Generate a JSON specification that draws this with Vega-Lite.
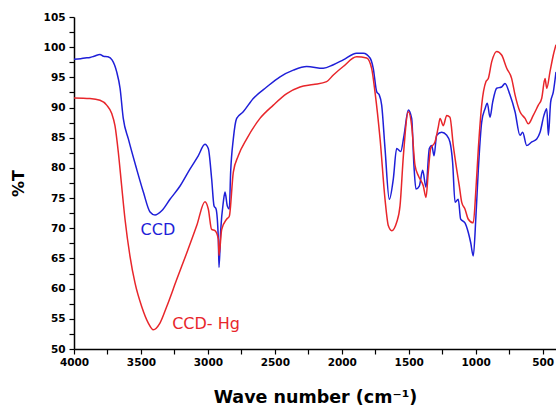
{
  "$schema": "https://vega.github.io/schema/vega-lite/v6.json",
  "width": 482,
  "height": 332,
  "autosize": {"type": "none"},
  "padding": {"left": 74, "top": 17, "right": 0, "bottom": 59},
  "background": "white",
  "config": {
    "view": {"stroke": null},
    "axis": {
      "domainColor": "black",
      "domainWidth": 1.5,
      "tickColor": "black",
      "tickWidth": 1.2,
      "grid": false,
      "labelFont": "DejaVu Sans",
      "labelFontWeight": "bold",
      "labelFontSize": 10.5,
      "labelColor": "black",
      "labelFlush": false,
      "titleFont": "DejaVu Sans",
      "titleFontWeight": "bold",
      "titleFontSize": 16,
      "titleColor": "black"
    }
  },
  "datasets": {
    "spectra": [
      {"series": "CCD", "wavenumber": 4000, "T": 98.0},
      {"series": "CCD", "wavenumber": 3950, "T": 98.1},
      {"series": "CCD", "wavenumber": 3918, "T": 98.2},
      {"series": "CCD", "wavenumber": 3880, "T": 98.3},
      {"series": "CCD", "wavenumber": 3850, "T": 98.5},
      {"series": "CCD", "wavenumber": 3806, "T": 98.8},
      {"series": "CCD", "wavenumber": 3780, "T": 98.5},
      {"series": "CCD", "wavenumber": 3746, "T": 98.4},
      {"series": "CCD", "wavenumber": 3716, "T": 97.9},
      {"series": "CCD", "wavenumber": 3681, "T": 95.9},
      {"series": "CCD", "wavenumber": 3656, "T": 93.2},
      {"series": "CCD", "wavenumber": 3632, "T": 88.2},
      {"series": "CCD", "wavenumber": 3594, "T": 84.8},
      {"series": "CCD", "wavenumber": 3532, "T": 79.8},
      {"series": "CCD", "wavenumber": 3482, "T": 76.0},
      {"series": "CCD", "wavenumber": 3432, "T": 72.7},
      {"series": "CCD", "wavenumber": 3395, "T": 72.2},
      {"series": "CCD", "wavenumber": 3345, "T": 72.9},
      {"series": "CCD", "wavenumber": 3283, "T": 74.8},
      {"series": "CCD", "wavenumber": 3208, "T": 77.0},
      {"series": "CCD", "wavenumber": 3134, "T": 79.8},
      {"series": "CCD", "wavenumber": 3072, "T": 82.0},
      {"series": "CCD", "wavenumber": 3022, "T": 83.9},
      {"series": "CCD", "wavenumber": 2997, "T": 83.2},
      {"series": "CCD", "wavenumber": 2972, "T": 78.2},
      {"series": "CCD", "wavenumber": 2954, "T": 73.7},
      {"series": "CCD", "wavenumber": 2939, "T": 73.2},
      {"series": "CCD", "wavenumber": 2922, "T": 68.2},
      {"series": "CCD", "wavenumber": 2917, "T": 63.5},
      {"series": "CCD", "wavenumber": 2904, "T": 69.8},
      {"series": "CCD", "wavenumber": 2885, "T": 74.3},
      {"series": "CCD", "wavenumber": 2872, "T": 76.0},
      {"series": "CCD", "wavenumber": 2855, "T": 73.7},
      {"series": "CCD", "wavenumber": 2840, "T": 73.2},
      {"series": "CCD", "wavenumber": 2830, "T": 79.3},
      {"series": "CCD", "wavenumber": 2810, "T": 84.8},
      {"series": "CCD", "wavenumber": 2785, "T": 88.2},
      {"series": "CCD", "wavenumber": 2736, "T": 89.3},
      {"series": "CCD", "wavenumber": 2661, "T": 91.5},
      {"series": "CCD", "wavenumber": 2561, "T": 93.4},
      {"series": "CCD", "wavenumber": 2461, "T": 95.1},
      {"series": "CCD", "wavenumber": 2362, "T": 96.2},
      {"series": "CCD", "wavenumber": 2262, "T": 96.8},
      {"series": "CCD", "wavenumber": 2138, "T": 96.5},
      {"series": "CCD", "wavenumber": 2063, "T": 97.1},
      {"series": "CCD", "wavenumber": 1989, "T": 97.9},
      {"series": "CCD", "wavenumber": 1889, "T": 99.0},
      {"series": "CCD", "wavenumber": 1839, "T": 99.0},
      {"series": "CCD", "wavenumber": 1789, "T": 98.2},
      {"series": "CCD", "wavenumber": 1765, "T": 96.5},
      {"series": "CCD", "wavenumber": 1739, "T": 92.6},
      {"series": "CCD", "wavenumber": 1720, "T": 92.1},
      {"series": "CCD", "wavenumber": 1702, "T": 90.4},
      {"series": "CCD", "wavenumber": 1677, "T": 83.2},
      {"series": "CCD", "wavenumber": 1645, "T": 74.8},
      {"series": "CCD", "wavenumber": 1615, "T": 78.2},
      {"series": "CCD", "wavenumber": 1590, "T": 83.2},
      {"series": "CCD", "wavenumber": 1560, "T": 82.7},
      {"series": "CCD", "wavenumber": 1535, "T": 85.4},
      {"series": "CCD", "wavenumber": 1503, "T": 89.6},
      {"series": "CCD", "wavenumber": 1478, "T": 88.2},
      {"series": "CCD", "wavenumber": 1461, "T": 80.4},
      {"series": "CCD", "wavenumber": 1446, "T": 76.5},
      {"series": "CCD", "wavenumber": 1421, "T": 77.0},
      {"series": "CCD", "wavenumber": 1396, "T": 79.6},
      {"series": "CCD", "wavenumber": 1371, "T": 76.8},
      {"series": "CCD", "wavenumber": 1346, "T": 83.2},
      {"series": "CCD", "wavenumber": 1328, "T": 83.7},
      {"series": "CCD", "wavenumber": 1311, "T": 82.0},
      {"series": "CCD", "wavenumber": 1291, "T": 85.4},
      {"series": "CCD", "wavenumber": 1254, "T": 85.9},
      {"series": "CCD", "wavenumber": 1216, "T": 85.4},
      {"series": "CCD", "wavenumber": 1192, "T": 84.3},
      {"series": "CCD", "wavenumber": 1172, "T": 80.9},
      {"series": "CCD", "wavenumber": 1154, "T": 74.3},
      {"series": "CCD", "wavenumber": 1130, "T": 74.8},
      {"series": "CCD", "wavenumber": 1112, "T": 71.5},
      {"series": "CCD", "wavenumber": 1080, "T": 70.9},
      {"series": "CCD", "wavenumber": 1055, "T": 69.3},
      {"series": "CCD", "wavenumber": 1037, "T": 67.6},
      {"series": "CCD", "wavenumber": 1018, "T": 65.4},
      {"series": "CCD", "wavenumber": 998, "T": 72.0},
      {"series": "CCD", "wavenumber": 980, "T": 79.8},
      {"series": "CCD", "wavenumber": 955, "T": 87.6},
      {"series": "CCD", "wavenumber": 930, "T": 89.8},
      {"series": "CCD", "wavenumber": 913, "T": 90.7},
      {"series": "CCD", "wavenumber": 893, "T": 88.4},
      {"series": "CCD", "wavenumber": 873, "T": 90.9},
      {"series": "CCD", "wavenumber": 843, "T": 93.2},
      {"series": "CCD", "wavenumber": 806, "T": 93.4},
      {"series": "CCD", "wavenumber": 781, "T": 94.0},
      {"series": "CCD", "wavenumber": 744, "T": 92.1},
      {"series": "CCD", "wavenumber": 706, "T": 89.3},
      {"series": "CCD", "wavenumber": 669, "T": 85.4},
      {"series": "CCD", "wavenumber": 649, "T": 85.9},
      {"series": "CCD", "wavenumber": 619, "T": 83.7},
      {"series": "CCD", "wavenumber": 581, "T": 84.3},
      {"series": "CCD", "wavenumber": 544, "T": 84.8},
      {"series": "CCD", "wavenumber": 519, "T": 85.9},
      {"series": "CCD", "wavenumber": 490, "T": 88.7},
      {"series": "CCD", "wavenumber": 469, "T": 89.8},
      {"series": "CCD", "wavenumber": 457, "T": 85.4},
      {"series": "CCD", "wavenumber": 440, "T": 90.9},
      {"series": "CCD", "wavenumber": 420, "T": 92.6},
      {"series": "CCD", "wavenumber": 400, "T": 95.9},
      {"series": "CCD- Hg", "wavenumber": 4000, "T": 91.6},
      {"series": "CCD- Hg", "wavenumber": 3881, "T": 91.5},
      {"series": "CCD- Hg", "wavenumber": 3806, "T": 91.2},
      {"series": "CCD- Hg", "wavenumber": 3756, "T": 90.4},
      {"series": "CCD- Hg", "wavenumber": 3718, "T": 89.0},
      {"series": "CCD- Hg", "wavenumber": 3694, "T": 87.0},
      {"series": "CCD- Hg", "wavenumber": 3669, "T": 82.6},
      {"series": "CCD- Hg", "wavenumber": 3644, "T": 77.0},
      {"series": "CCD- Hg", "wavenumber": 3619, "T": 71.5},
      {"series": "CCD- Hg", "wavenumber": 3582, "T": 65.4},
      {"series": "CCD- Hg", "wavenumber": 3544, "T": 60.9},
      {"series": "CCD- Hg", "wavenumber": 3494, "T": 57.0},
      {"series": "CCD- Hg", "wavenumber": 3445, "T": 54.3},
      {"series": "CCD- Hg", "wavenumber": 3408, "T": 53.2},
      {"series": "CCD- Hg", "wavenumber": 3358, "T": 54.3},
      {"series": "CCD- Hg", "wavenumber": 3308, "T": 57.0},
      {"series": "CCD- Hg", "wavenumber": 3233, "T": 61.5},
      {"series": "CCD- Hg", "wavenumber": 3158, "T": 65.9},
      {"series": "CCD- Hg", "wavenumber": 3084, "T": 70.4},
      {"series": "CCD- Hg", "wavenumber": 3022, "T": 74.4},
      {"series": "CCD- Hg", "wavenumber": 2997, "T": 73.2},
      {"series": "CCD- Hg", "wavenumber": 2972, "T": 69.8},
      {"series": "CCD- Hg", "wavenumber": 2947, "T": 69.6},
      {"series": "CCD- Hg", "wavenumber": 2922, "T": 68.2},
      {"series": "CCD- Hg", "wavenumber": 2917, "T": 65.5},
      {"series": "CCD- Hg", "wavenumber": 2897, "T": 69.8},
      {"series": "CCD- Hg", "wavenumber": 2860, "T": 71.5},
      {"series": "CCD- Hg", "wavenumber": 2840, "T": 72.0},
      {"series": "CCD- Hg", "wavenumber": 2810, "T": 79.3},
      {"series": "CCD- Hg", "wavenumber": 2773, "T": 82.0},
      {"series": "CCD- Hg", "wavenumber": 2710, "T": 84.8},
      {"series": "CCD- Hg", "wavenumber": 2611, "T": 88.2},
      {"series": "CCD- Hg", "wavenumber": 2511, "T": 90.4},
      {"series": "CCD- Hg", "wavenumber": 2411, "T": 92.3},
      {"series": "CCD- Hg", "wavenumber": 2312, "T": 93.4},
      {"series": "CCD- Hg", "wavenumber": 2213, "T": 93.8},
      {"series": "CCD- Hg", "wavenumber": 2113, "T": 94.3},
      {"series": "CCD- Hg", "wavenumber": 2063, "T": 95.4},
      {"series": "CCD- Hg", "wavenumber": 1989, "T": 96.8},
      {"series": "CCD- Hg", "wavenumber": 1889, "T": 98.4},
      {"series": "CCD- Hg", "wavenumber": 1814, "T": 98.2},
      {"series": "CCD- Hg", "wavenumber": 1777, "T": 96.5},
      {"series": "CCD- Hg", "wavenumber": 1752, "T": 92.6},
      {"series": "CCD- Hg", "wavenumber": 1714, "T": 84.8},
      {"series": "CCD- Hg", "wavenumber": 1677, "T": 74.8},
      {"series": "CCD- Hg", "wavenumber": 1652, "T": 70.4},
      {"series": "CCD- Hg", "wavenumber": 1627, "T": 69.6},
      {"series": "CCD- Hg", "wavenumber": 1590, "T": 71.0},
      {"series": "CCD- Hg", "wavenumber": 1565, "T": 73.7},
      {"series": "CCD- Hg", "wavenumber": 1540, "T": 82.0},
      {"series": "CCD- Hg", "wavenumber": 1503, "T": 89.3},
      {"series": "CCD- Hg", "wavenumber": 1478, "T": 87.0},
      {"series": "CCD- Hg", "wavenumber": 1453, "T": 80.4},
      {"series": "CCD- Hg", "wavenumber": 1428, "T": 78.7},
      {"series": "CCD- Hg", "wavenumber": 1391, "T": 77.0},
      {"series": "CCD- Hg", "wavenumber": 1371, "T": 75.1},
      {"series": "CCD- Hg", "wavenumber": 1354, "T": 79.3},
      {"series": "CCD- Hg", "wavenumber": 1336, "T": 83.2},
      {"series": "CCD- Hg", "wavenumber": 1304, "T": 84.3},
      {"series": "CCD- Hg", "wavenumber": 1279, "T": 86.8},
      {"series": "CCD- Hg", "wavenumber": 1266, "T": 88.2},
      {"series": "CCD- Hg", "wavenumber": 1242, "T": 87.0},
      {"series": "CCD- Hg", "wavenumber": 1216, "T": 88.7},
      {"series": "CCD- Hg", "wavenumber": 1192, "T": 88.4},
      {"series": "CCD- Hg", "wavenumber": 1167, "T": 83.7},
      {"series": "CCD- Hg", "wavenumber": 1142, "T": 79.8},
      {"series": "CCD- Hg", "wavenumber": 1122, "T": 77.0},
      {"series": "CCD- Hg", "wavenumber": 1104, "T": 74.3},
      {"series": "CCD- Hg", "wavenumber": 1080, "T": 73.2},
      {"series": "CCD- Hg", "wavenumber": 1055, "T": 71.5},
      {"series": "CCD- Hg", "wavenumber": 1018, "T": 70.9},
      {"series": "CCD- Hg", "wavenumber": 998, "T": 76.5},
      {"series": "CCD- Hg", "wavenumber": 980, "T": 83.2},
      {"series": "CCD- Hg", "wavenumber": 955, "T": 90.4},
      {"series": "CCD- Hg", "wavenumber": 923, "T": 94.3},
      {"series": "CCD- Hg", "wavenumber": 906, "T": 94.8},
      {"series": "CCD- Hg", "wavenumber": 880, "T": 97.6},
      {"series": "CCD- Hg", "wavenumber": 843, "T": 99.3},
      {"series": "CCD- Hg", "wavenumber": 806, "T": 98.7},
      {"series": "CCD- Hg", "wavenumber": 768, "T": 96.5},
      {"series": "CCD- Hg", "wavenumber": 731, "T": 94.8},
      {"series": "CCD- Hg", "wavenumber": 706, "T": 92.1},
      {"series": "CCD- Hg", "wavenumber": 669, "T": 89.3},
      {"series": "CCD- Hg", "wavenumber": 631, "T": 88.2},
      {"series": "CCD- Hg", "wavenumber": 607, "T": 87.3},
      {"series": "CCD- Hg", "wavenumber": 570, "T": 88.7},
      {"series": "CCD- Hg", "wavenumber": 532, "T": 90.4},
      {"series": "CCD- Hg", "wavenumber": 507, "T": 91.5},
      {"series": "CCD- Hg", "wavenumber": 482, "T": 94.8},
      {"series": "CCD- Hg", "wavenumber": 469, "T": 93.2},
      {"series": "CCD- Hg", "wavenumber": 445, "T": 95.9},
      {"series": "CCD- Hg", "wavenumber": 420, "T": 98.7},
      {"series": "CCD- Hg", "wavenumber": 400, "T": 100.4}
    ],
    "labels": [
      {"series": "CCD", "wavenumber": 3373, "T": 69.7},
      {"series": "CCD- Hg", "wavenumber": 3014, "T": 54.2}
    ]
  },
  "encoding": {
    "x": {
      "field": "wavenumber",
      "type": "quantitative",
      "scale": {"domain": [400, 4000], "reverse": true, "nice": false, "zero": false},
      "axis": {
        "title": "Wave number (cm⁻¹)",
        "titleFontSize": 17.5,
        "values": [500, 750, 1000, 1250, 1500, 1750, 2000, 2250, 2500, 2750, 3000, 3250, 3500, 3750, 4000],
        "format": "d",
        "ticks": true,
        "tickSize": 5,
        "labelOverlap": false,
        "labelExpr": "datum.value % 500 === 0 ? datum.label : ''",
        "encode": {"ticks": {"update": {"y2": {"signal": "datum.value % 500 === 0 ? 5 : 3"}}}},
        "labelPadding": 3,
        "titlePadding": 21
      }
    },
    "y": {
      "field": "T",
      "type": "quantitative",
      "scale": {"domain": [50, 105], "nice": false, "zero": false},
      "axis": {
        "title": "%T",
        "values": [50, 52.5, 55, 57.5, 60, 62.5, 65, 67.5, 70, 72.5, 75, 77.5, 80, 82.5, 85, 87.5, 90, 92.5, 95, 97.5, 100, 102.5, 105],
        "ticks": true,
        "tickSize": 5,
        "labelOverlap": false,
        "labelExpr": "datum.value % 5 === 0 ? datum.label : ''",
        "encode": {"ticks": {"update": {"x2": {"signal": "datum.value % 5 === 0 ? -5 : -3"}}}},
        "labelPadding": 4,
        "titlePadding": 17
      }
    },
    "color": {
      "field": "series",
      "type": "nominal",
      "scale": {"domain": ["CCD", "CCD- Hg"], "range": ["#1f1fd8", "#e8262b"]},
      "legend": null
    }
  },
  "layer": [
    {
      "data": {"name": "spectra"},
      "mark": {"type": "line", "strokeWidth": 1.5, "interpolate": "monotone"}
    },
    {
      "data": {"name": "labels"},
      "mark": {"type": "text", "font": "DejaVu Sans", "fontSize": 16, "align": "center", "baseline": "middle"},
      "encoding": {
        "text": {"field": "series"}
      }
    }
  ]
}
